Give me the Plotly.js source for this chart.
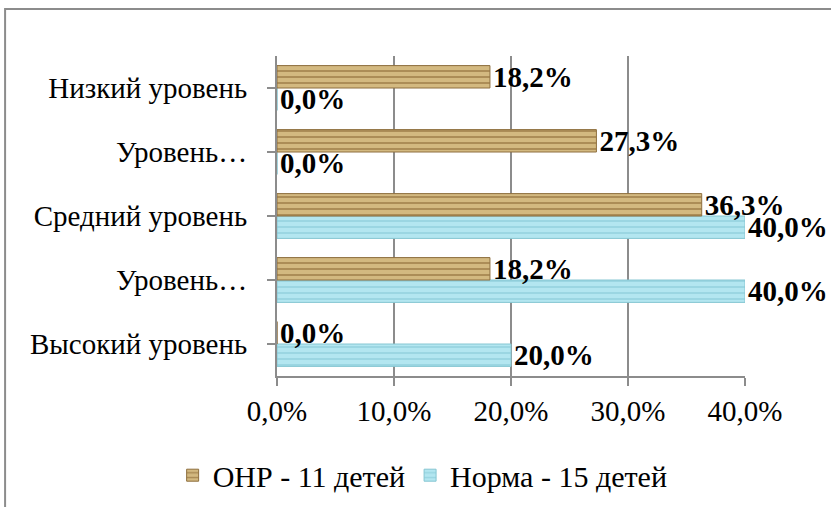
<!DOCTYPE html>
<html>
<head>
<meta charset="utf-8">
<script src="https://cdn.plot.ly/plotly-3.0.1.min.js"></script>
<style>html,body{margin:0;padding:0;background:#fff;}#chart{width:831px;height:507px;}</style>
</head>
<body>
<div id="chart"></div>
<script>
// Categories, bottom to top
var categories = ["Высокий уровень", "Уровень выше среднего", "Средний уровень", "Уровень ниже среднего", "Низкий уровень"];
var categoryLabels = ["Высокий уровень", "Уровень…", "Средний уровень", "Уровень…", "Низкий уровень"];
var seriesNames = ["ОНР - 11 детей", "Норма - 15 детей"];
var onrValues = [0.0, 18.2, 36.3, 27.3, 18.2];
var normaValues = [20.0, 40.0, 40.0, 0.0, 0.0];
var xTickValues = [0, 10, 20, 30, 40];
var xTickLabels = ["0,0%", "10,0%", "20,0%", "30,0%", "40,0%"];

function fmt(v) { return v.toFixed(1).replace(".", ",") + "%"; }

var SERIF = "Liberation Serif";
var labelFont = {family: SERIF, size: 29, color: "#000", weight: "bold"};

var traceNorma = {
  type: "bar", orientation: "h", name: seriesNames[1],
  y: categories, x: normaValues,
  text: normaValues.map(fmt), textposition: "outside", textfont: labelFont,
  constraintext: "none", cliponaxis: false,
  marker: {color: "#AEE2EC", line: {color: "#86C6D2", width: 1},
    pattern: {shape: "-", fillmode: "replace", bgcolor: "#B3E6F0", fgcolor: "#98D5E1", size: 6, solidity: 0.3}},
  hoverinfo: "skip"
};
var traceOnr = {
  type: "bar", orientation: "h", name: seriesNames[0],
  y: categories, x: onrValues,
  text: onrValues.map(fmt), textposition: "outside", textfont: labelFont,
  constraintext: "none", cliponaxis: false,
  marker: {color: "#C9AA70", line: {color: "#8E6F3E", width: 1},
    pattern: {shape: "-", fillmode: "replace", bgcolor: "#D3B980", fgcolor: "#A88852", size: 6, solidity: 0.3}},
  hoverinfo: "skip"
};

var layout = {
  width: 831, height: 507,
  margin: {l: 277, r: 86, t: 56, b: 131, pad: 0, autoexpand: false},
  paper_bgcolor: "#fff", plot_bgcolor: "#fff",
  font: {family: SERIF, size: 29, color: "#000"},
  barmode: "group", bargap: 0.3, bargroupgap: 0,
  showlegend: true,
  legend: {orientation: "h", x: -0.223, xanchor: "left", y: -0.31, yanchor: "middle",
    traceorder: "reversed", font: {family: SERIF, size: 30, color: "#000"},
    itemwidth: 30, tracegroupgap: 0},
  xaxis: {range: [0, 40], tickvals: xTickValues, ticktext: xTickLabels,
    showgrid: true, gridcolor: "#8C8C8C", gridwidth: 2,
    showline: true, linecolor: "#8C8C8C", linewidth: 2,
    ticks: "outside", ticklen: 8, tickcolor: "#8C8C8C", tickwidth: 2,
    zeroline: false, fixedrange: true, tickfont: {family: SERIF, size: 29, color: "#000"}},
  yaxis: {type: "category", tickvals: categories, ticktext: categoryLabels,
    showline: true, linecolor: "#8C8C8C", linewidth: 2,
    ticks: "outside", ticklen: 8, tickcolor: "#8C8C8C", tickwidth: 2,
    ticklabelstandoff: 14, showgrid: false, fixedrange: true, tickfont: {family: SERIF, size: 29, color: "#000"}},
  shapes: [
    {type: "rect", xref: "paper", yref: "paper", x0: -0.581, x1: 1.3, y0: -0.5, y1: 1.147,
      line: {color: "#8C8C8C", width: 2}, fillcolor: "rgba(0,0,0,0)", layer: "below"}
  ]
};

Plotly.newPlot("chart", [traceNorma, traceOnr], layout, {displayModeBar: false, staticPlot: true});
</script>
</body>
</html>
